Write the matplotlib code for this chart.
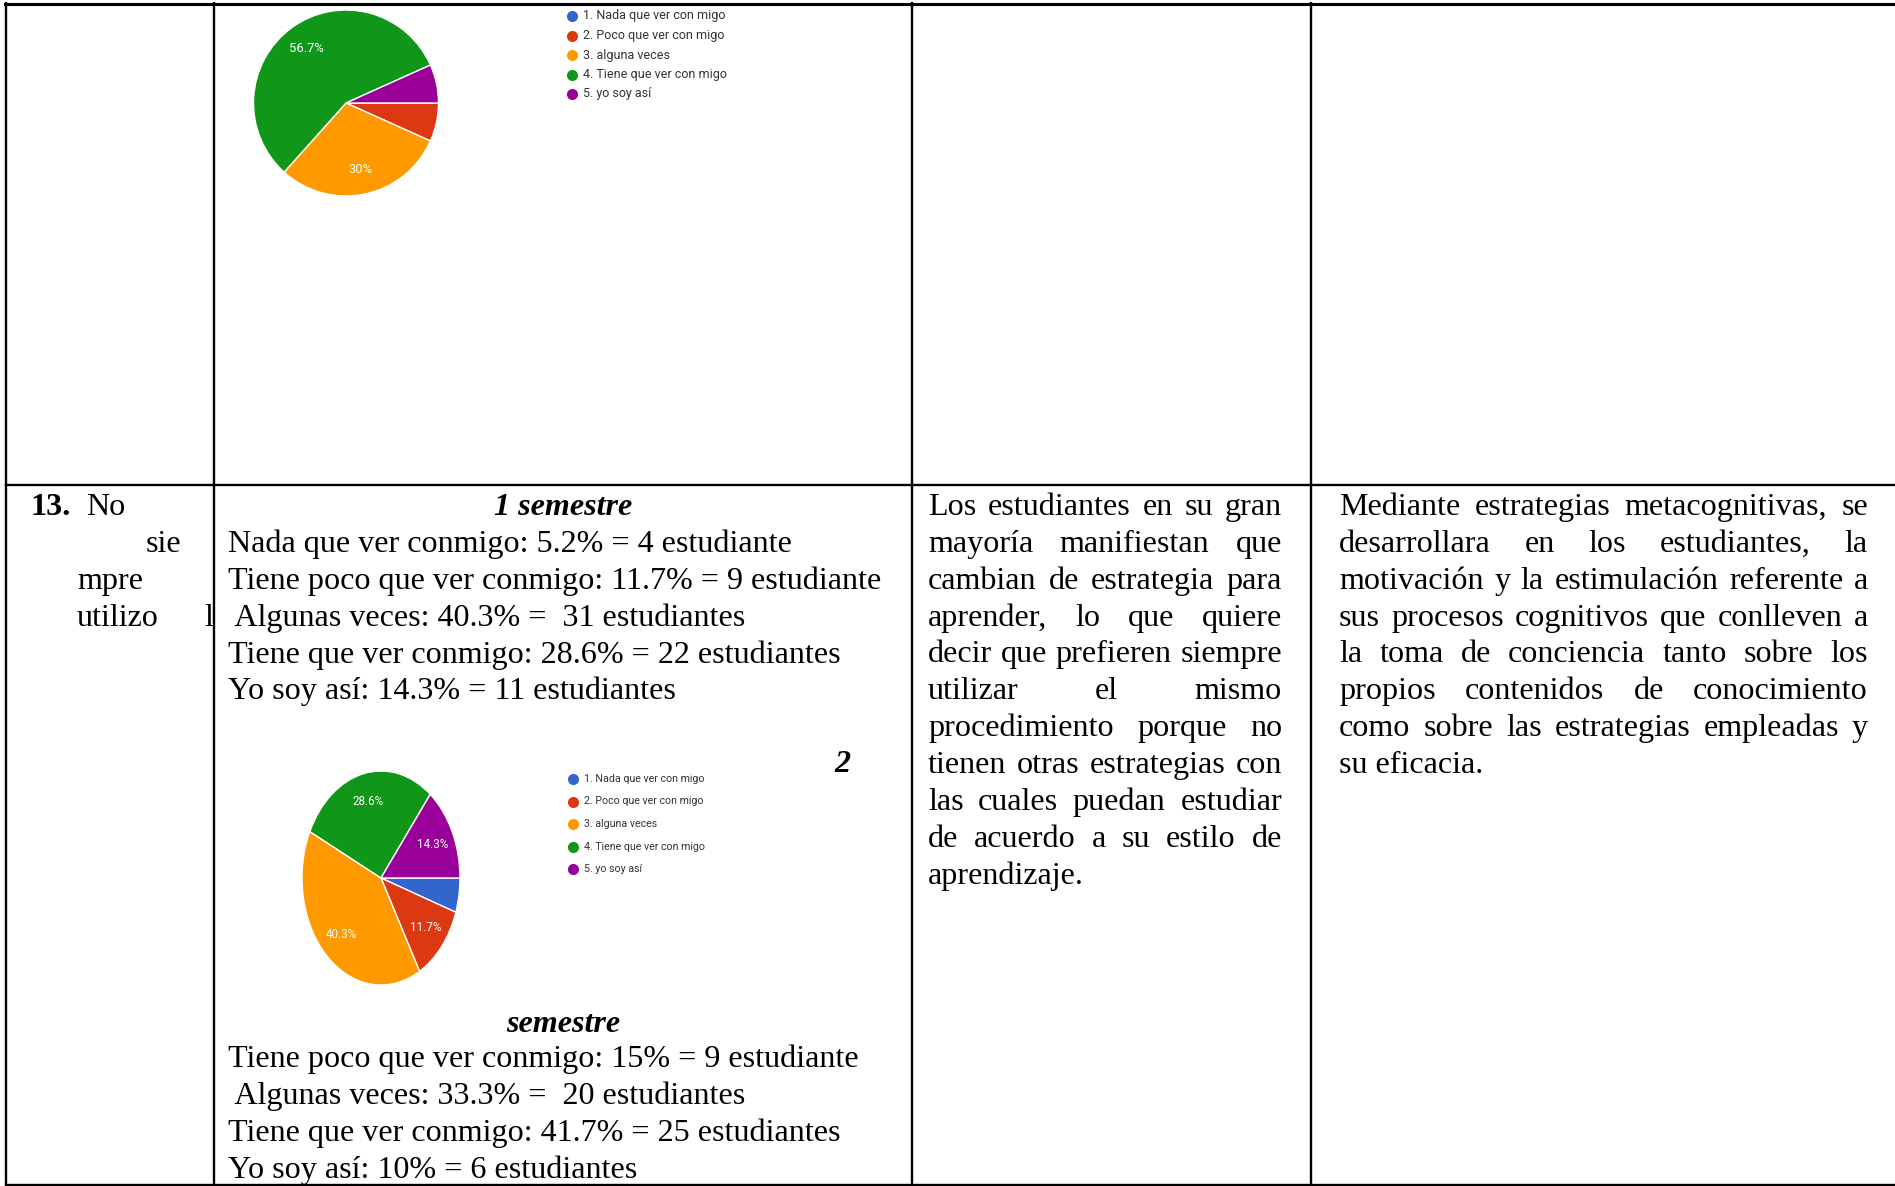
import matplotlib
matplotlib.use("Agg")
import numpy as np
import matplotlib.pyplot as plt
from matplotlib import font_manager

W, H, DPI = 1895, 1186, 100

# ---------------- data ----------------
legend_labels = ["1. Nada que ver con migo", "2. Poco que ver con migo",
                 "3. alguna veces", "4. Tiene que ver con migo", "5. yo soy así"]
slice_colors = ["#3366CC", "#DC3912", "#FF9900", "#109618", "#990099"]
top_pie_values = [0, 6.7, 30, 56.7, 6.7]
bottom_pie_values = [5.2, 11.7, 40.3, 28.6, 14.3]

question_number = "13."
question_words = ["No", "sie", "mpre", "utilizo"]

sem1_title = "1 semestre"
sem1_lines = ["Nada que ver conmigo: 5.2% = 4 estudiante",
              "Tiene poco que ver conmigo: 11.7% = 9 estudiante",
              " Algunas veces: 40.3% =  31 estudiantes",
              "Tiene que ver conmigo: 28.6% = 22 estudiantes",
              "Yo soy así: 14.3% = 11 estudiantes"]
sem2_number = "2"
sem2_title = "semestre"
sem2_lines = ["Tiene poco que ver conmigo: 15% = 9 estudiante",
              " Algunas veces: 33.3% =  20 estudiantes",
              "Tiene que ver conmigo: 41.7% = 25 estudiantes",
              "Yo soy así: 10% = 6 estudiantes"]

analysis_lines = ["Los estudiantes en su gran",
                  "mayoría manifiestan que",
                  "cambian de estrategia para",
                  "aprender, lo que quiere",
                  "decir que prefieren siempre",
                  "utilizar el mismo",
                  "procedimiento porque no",
                  "tienen otras estrategias con",
                  "las cuales puedan estudiar",
                  "de acuerdo a su estilo de",
                  "aprendizaje."]
proposal_lines = ["Mediante estrategias metacognitivas, se",
                  "desarrollara en los estudiantes, la",
                  "motivación y la estimulación  referente a",
                  "sus procesos cognitivos que conlleven a",
                  "la toma de conciencia tanto sobre los",
                  "propios contenidos de conocimiento",
                  "como sobre las estrategias empleadas y",
                  "su eficacia."]


def has_font(name):
    try:
        font_manager.findfont(font_manager.FontProperties(family=name),
                              fallback_to_default=False)
        return True
    except Exception:
        return False


SERIF = "Liberation Serif" if has_font("Liberation Serif") else "DejaVu Serif"
SANS = "Liberation Sans Narrow" if has_font("Liberation Sans Narrow") else (
    "Roboto" if has_font("Roboto") else "DejaVu Sans")

fig = plt.figure(figsize=(W / DPI, H / DPI), dpi=DPI)
fig.patch.set_facecolor("white")
ax = fig.add_axes([0, 0, 1, 1])
ax.set_xlim(0, W)
ax.set_ylim(H, 0)
ax.axis("off")
renderer = fig.canvas.get_renderer()


def text_width(s, **kw):
    t = ax.text(0, 0, s, **kw)
    w = t.get_window_extent(renderer=renderer).width
    t.remove()
    return w


def fit_size(s, target, base=20, **kw):
    return base * target / text_width(s, fontsize=base, **kw)


# body font size fitted to reference width of the longest line
BODY = fit_size(sem1_lines[1], 653, family=SERIF)
body = dict(family=SERIF, fontsize=BODY, color="black")
bi = dict(family=SERIF, fontsize=BODY, color="black", weight="bold", style="italic")

# ---------------- table grid ----------------
LW = 1.7
for x in [6, 214, 912, 1311]:
    ax.plot([x, x], [2, 1185], color="black", lw=LW, solid_capstyle="butt")
ax.plot([5, W], [3.5, 3.5], color="black", lw=2.2)
ax.plot([6, W], [485, 485], color="black", lw=LW)
ax.plot([6, W], [1184.5, 1184.5], color="black", lw=LW)

DY = 36.85
Y0 = 507.5

# ---------------- column 1 ----------------
ax.text(30, Y0, question_number, ha="left", va="center", weight="bold", **body)
ax.text(86, Y0, question_words[0], ha="left", va="center", **body)
ax.text(181, Y0 + DY, question_words[1], ha="right", va="center", **body)
ax.text(77, Y0 + 2 * DY, question_words[2], ha="left", va="center", **body)
ax.text(77, Y0 + 3 * DY, question_words[3], ha="left", va="center", **body)
ax.text(204, Y0 + 3 * DY, "l", ha="left", va="center", **body)

# ---------------- column 2 ----------------
ax.text(563, Y0, sem1_title, ha="center", va="center", **bi)
for i, line in enumerate(sem1_lines):
    ax.text(228, Y0 + (i + 1) * DY, line, ha="left", va="center", **body)
ax.text(842, 764.5, sem2_number, ha="center", va="center", **bi)
ax.text(563, 1024.5, sem2_title, ha="center", va="center", **bi)
for i, line in enumerate(sem2_lines):
    ax.text(228, 1059.5 + i * DY, line, ha="left", va="center", **body)


# ---------------- justified columns ----------------
def justified(lines, x0, x1, y0, dy):
    for i, line in enumerate(lines):
        y = y0 + i * dy
        words = line.split()
        if i == len(lines) - 1 or len(words) == 1:
            ax.text(x0, y, line, ha="left", va="center", **body)
            continue
        widths = [text_width(w, **body) for w in words]
        gap = (x1 - x0 - sum(widths)) / (len(words) - 1)
        x = x0
        for w, wd in zip(words, widths):
            ax.text(x, y, w, ha="left", va="center", **body)
            x += wd + gap


justified(analysis_lines, 928, 1282, Y0, DY)
justified(proposal_lines, 1339, 1868, Y0, DY)


# ---------------- pies ----------------
def draw_pie(cx, cy, rx, ry, values, fsize):
    pax = fig.add_axes([(cx - rx) / W, 1 - (cy + ry) / H, 2 * rx / W, 2 * ry / H])
    wedges, _ = pax.pie(values, colors=slice_colors, startangle=0,
                        counterclock=False, radius=1,
                        wedgeprops=dict(edgecolor="white", linewidth=1.0))
    pax.set_aspect("auto")
    pax.set_xlim(-1, 1)
    pax.set_ylim(-1, 1)
    pax.axis("off")
    for w, v in zip(wedges, values):
        if v < 8:
            continue
        ang = np.deg2rad((w.theta1 + w.theta2) / 2)
        pax.text(0.73 * np.cos(ang), 0.73 * np.sin(ang), f"{v:g}%", color="white",
                 ha="center", va="center", fontsize=fsize, family=SANS)


top_lbl_size = fit_size("56.7%", 35, family=SANS)
bot_lbl_size = fit_size("28.6%", 31, family=SANS)
draw_pie(346, 103, 92.5, 93, top_pie_values, top_lbl_size)
draw_pie(381, 878, 79, 107, bottom_pie_values, bot_lbl_size)


# ---------------- legends ----------------
def draw_legend(x_dot, y0, dy, target_w):
    fs = fit_size(legend_labels[0], target_w, family=SANS)
    for i, (lab, col) in enumerate(zip(legend_labels, slice_colors)):
        y = y0 + i * dy
        ax.plot(x_dot, y, "o", color=col, markersize=8, markeredgewidth=0)
        ax.text(x_dot + 11, y, lab, ha="left", va="center", fontsize=fs,
                family=SANS, color="#333333")


draw_legend(572, 16, 19.5, 142)
draw_legend(573, 779, 22.5, 120)

fig.savefig("out.png", dpi=DPI, facecolor="white")
